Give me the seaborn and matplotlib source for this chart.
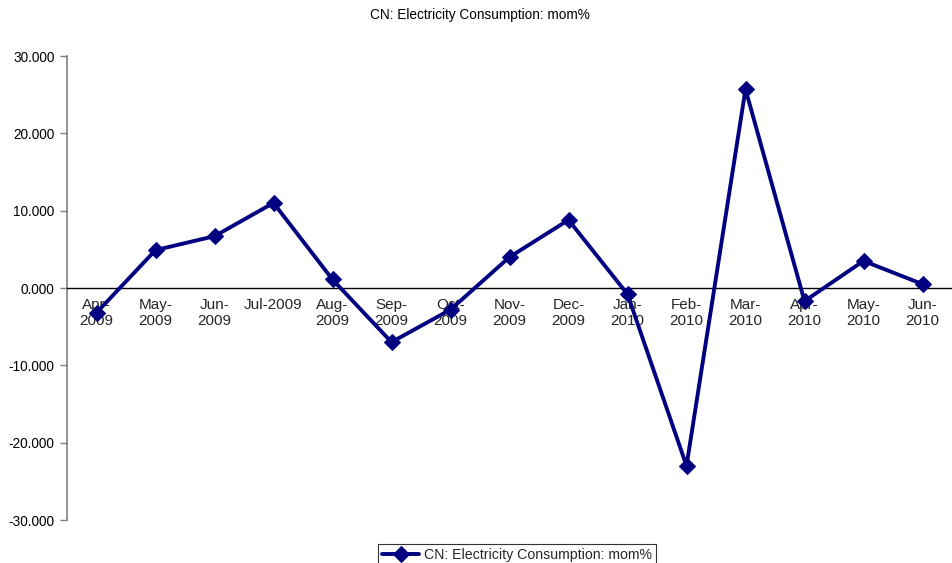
import matplotlib
matplotlib.use("Agg")
import matplotlib.pyplot as plt
import seaborn as sns
import pandas as pd
import numpy as np

months = ["Apr-\n2009", "May-\n2009", "Jun-\n2009", "Jul-2009", "Aug-\n2009", "Sep-\n2009",
          "Oct-\n2009", "Nov-\n2009", "Dec-\n2009", "Jan-\n2010", "Feb-\n2010", "Mar-\n2010",
          "Apr-\n2010", "May-\n2010", "Jun-\n2010"]
mom = [-3.2, 4.9, 6.7, 11.0, 1.1, -7.0, -2.8, 4.0, 8.8, -0.8, -23.0, 25.7, -1.7, 3.5, 0.5]
y_ticks = [-30, -20, -10, 0, 10, 20, 30]
series_name = "CN: Electricity Consumption: mom%"

sns.set_theme(style="white")
plt.rcParams["font.family"] = ["Liberation Sans", "DejaVu Sans"]

df = pd.DataFrame({"month": months, "value": mom, "series": series_name})
pos = np.arange(len(months))
df["pos"] = pos

fig = plt.figure(figsize=(9.52, 5.63), dpi=100)
ax = fig.add_axes([67 / 952, 1 - 520 / 563, 1 - 67 / 952, (520 - 56) / 563])

sns.lineplot(data=df, x="pos", y="value", hue="series", palette=["#000080"],
             marker="D", markersize=8, linewidth=2.8, markeredgecolor="#000080",
             ax=ax, legend=True, zorder=5)

ax.set_xlim(-0.5, len(months) - 0.5)
ax.set_ylim(-30, 30)
ax.set_yticks(y_ticks)
ax.set_yticklabels([f"{v:.3f}" for v in y_ticks], fontsize=9.8, color="#000000")
ax.set_xticks(pos)
ax.set_xticklabels(months, fontsize=9.8, color="#000000", linespacing=1.0)
ax.set_xticks(np.arange(-0.5, len(months), 1.0), minor=True)
ax.tick_params(axis="x", which="major", length=0, pad=7)
ax.tick_params(axis="x", which="minor", length=5, width=1, color="#000000", direction="out")
ax.tick_params(axis="y", which="major", length=5, width=1, color="#808080", direction="out",
               left=True, pad=4)
ax.set_xlabel("")
ax.set_ylabel("")

for s in ["top", "right"]:
    ax.spines[s].set_visible(False)
ax.spines["bottom"].set_position(("data", 0))
ax.spines["bottom"].set_color("#000000")
ax.spines["bottom"].set_linewidth(1)
ax.spines["left"].set_color("#808080")
ax.spines["left"].set_linewidth(1.2)

fig.suptitle(series_name, x=480 / 952, y=1 - 15 / 563, fontsize=9.8, color="#000000",
             va="center")

leg = ax.legend(loc="upper center", bbox_to_anchor=(517 / 952, 1 - 544 / 563),
                bbox_transform=fig.transFigure, frameon=True, fancybox=False, fontsize=10.2,
                handlelength=2.6, borderpad=0.3, handletextpad=0.3, borderaxespad=0)
leg.get_frame().set_edgecolor("#000000")
leg.get_frame().set_linewidth(0.8)

fig.savefig("out.png", dpi=100, facecolor="white")
